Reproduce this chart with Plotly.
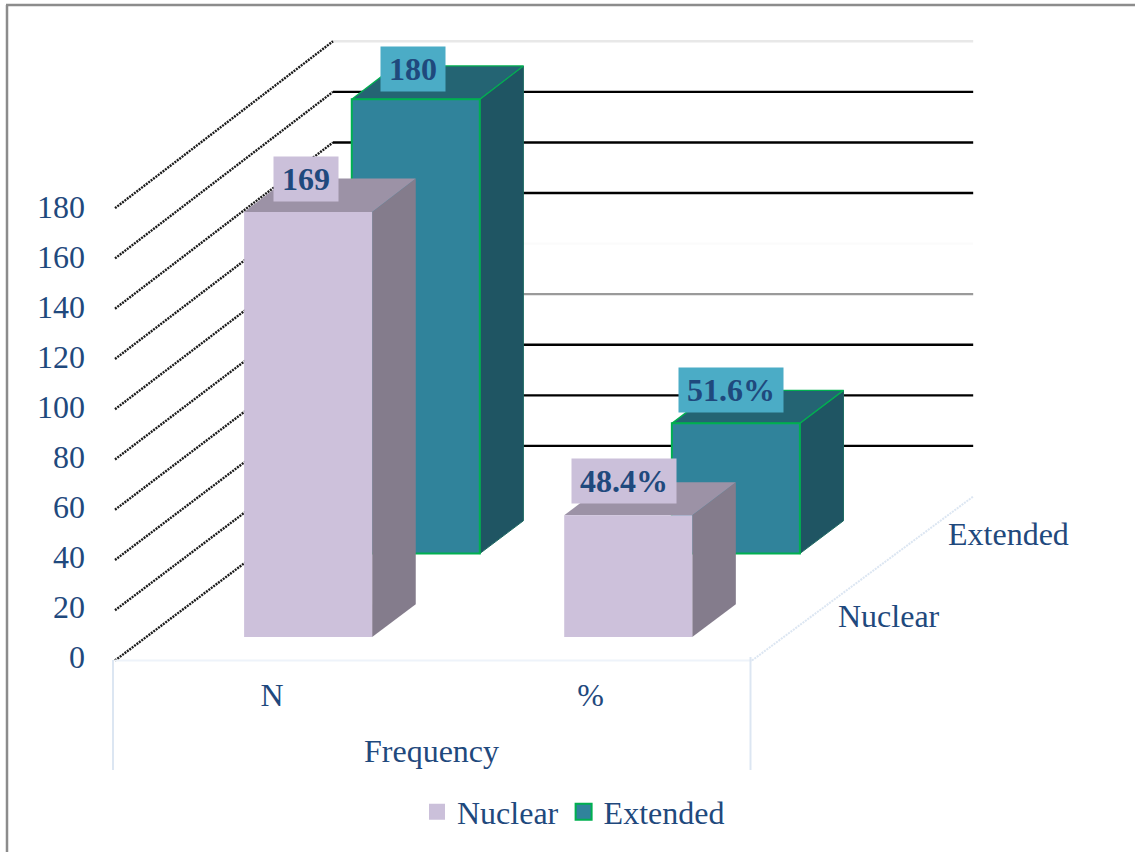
import plotly.graph_objects as go

# Chart data
categories = ["N", "%"]
series_names = ["Nuclear", "Extended"]
nuclear_values = [169, 48.4]
extended_values = [180, 51.6]
value_ticks = [0, 20, 40, 60, 80, 100, 120, 140, 160, 180]
axis_title = "Frequency"

# Canvas and oblique projection settings (pixels per unit)
WIDTH, HEIGHT = 1135, 852
X_ORIGIN, X_UNIT = 115, 318.5
Y_ZERO, Y_UNIT = 660.5, 2.513
WALL_DX, WALL_DY = 218 / X_UNIT, 164 / Y_UNIT
WALL_STRETCH = 0.0064  # the scale grows slightly toward the back wall
WALL_END = 2.01

# Tick labels sit on their own overlaid scale
TICK_ZERO, TICK_UNIT = 656.5, 2.5

BAR_WIDTH = 0.402
BAR_DEPTH = 0.2
CATEGORY_CENTERS = [0.5085, 1.5135]
SERIES_DEPTHS = {"Nuclear": 0.143, "Extended": 0.652}
SERIES_SHIFT = {"Nuclear": 0.0, "Extended": -0.0104}

TEXT = "#1F497D"
FONT = "Liberation Serif"
FONT_SIZE = 32

SERIES_STYLE = {
    "Nuclear": dict(front="#CDC1DB", top="#9C92A6", side="#847C8C", edge=None, side_edge=None, box="#CBC0DA"),
    "Extended": dict(front="#30839B", top="#246473", side="#1F5563", edge="#00B050", side_edge="#1E6A62", box="#4BACC6"),
}
GRID_COLORS = {0: "rgba(0,0,0,0)", 80: "#9A9A9A", 100: "#FBFBFB", 180: "#E8E8E8"}

# Pixel offsets of each value label from the middle of its bar's top front edge
LABEL_OFFSETS = {
    "Nuclear": [(-2, 33), (-4, 34)],
    "Extended": [(-2.5, 30.5), (-4.5, 33)],
}


def project(u, v, d):
    """Map category position, value and depth to axis coordinates."""
    return u + d * WALL_DX, v * (1 + d * WALL_STRETCH) + d * WALL_DY


def line_trace(points, color, width, dash="solid"):
    xs, ys = zip(*points)
    return go.Scatter(x=xs, y=ys, mode="lines", showlegend=False, hoverinfo="skip",
                      line=dict(color=color, width=width, dash=dash))


def face_trace(points, fill, edge, edge_width):
    xs, ys = zip(*(points + points[:1]))
    line = dict(color=edge, width=edge_width) if edge else dict(width=0)
    return go.Scatter(x=xs, y=ys, mode="lines", fill="toself", fillcolor=fill, line=line,
                      showlegend=False, hoverinfo="skip")


fig = go.Figure()

# Back wall gridlines, side wall gridlines and floor edges
for tick in value_ticks:
    color = GRID_COLORS.get(tick, "#000000")
    fig.add_trace(line_trace([project(0, tick, 1), project(WALL_END, tick, 1)], color, 2.4))
    fig.add_trace(line_trace([project(0, tick, 0), project(0, tick, 1)], "#1A1A1A", 2.4, "2px,1px"))
fig.add_trace(line_trace([project(0, 0, 0), project(2, 0, 0)], "#EEF3FA", 2))
fig.add_trace(line_trace([project(2, 0, 0), project(WALL_END, 0, 1)], "#DCE6F2", 2, "2px,1px"))

# Bars, back row first so the front row overlaps it
rows = [("Extended", extended_values), ("Nuclear", nuclear_values)]
annotations = []
for name, values in rows:
    style = SERIES_STYLE[name]
    depth = SERIES_DEPTHS[name]
    for i, value in enumerate(values):
        center = CATEGORY_CENTERS[i] + SERIES_SHIFT[name]
        left = center - BAR_WIDTH / 2
        right = left + BAR_WIDTH
        d0, d1 = depth, depth + BAR_DEPTH
        fig.add_trace(face_trace([project(right, 0, d0), project(right, 0, d1),
                                  project(right, value, d1), project(right, value, d0)],
                                 style["side"], style["side_edge"], 1))
        fig.add_trace(face_trace([project(left, value, d0), project(right, value, d0),
                                  project(right, value, d1), project(left, value, d1)],
                                 style["top"], style["edge"], 1.3))
        fig.add_trace(face_trace([project(left, 0, d0), project(right, 0, d0),
                                  project(right, value, d0), project(left, value, d0)],
                                 style["front"], style["edge"], 2))
        label = f"{value}%" if categories[i] == "%" else f"{value}"
        ax, ay = project(center, value, d0)
        dx, dy = LABEL_OFFSETS[name][i]
        annotations.append(dict(
            x=ax, y=ay, xref="x", yref="y", text=f"<b>{label}</b>", showarrow=False,
            xshift=dx, yshift=dy, width=102 if categories[i] == "%" else 62, height=42,
            bgcolor=style["box"], font=dict(family=FONT, size=FONT_SIZE, color=TEXT),
            xanchor="center", yanchor="middle", align="center", valign="middle",
        ))

# Legend entries
fig.add_trace(go.Scatter(x=[None], y=[None], mode="markers", name=series_names[0],
                         marker=dict(symbol="square", size=16, color=SERIES_STYLE["Nuclear"]["box"])))
fig.add_trace(go.Scatter(x=[None], y=[None], mode="markers", name=series_names[1],
                         marker=dict(symbol="square", size=16, color=SERIES_STYLE["Extended"]["front"],
                                     line=dict(color="#00B050", width=2))))

# Carrier for the overlaid tick label scale
fig.add_trace(go.Scatter(x=[None], y=[None], yaxis="y2", showlegend=False, hoverinfo="skip"))


def paper_x(px):
    return px / WIDTH


def paper_y(px):
    return 1 - px / HEIGHT


def note(text, px, py):
    return dict(x=paper_x(px), y=paper_y(py), xref="paper", yref="paper", text=text, showarrow=False,
                xanchor="center", yanchor="middle", font=dict(family=FONT, size=FONT_SIZE, color=TEXT))


annotations += [note(axis_title, 431, 751), note(series_names[0], 889, 616), note(series_names[1], 1008, 534)]

# Chart frame and category dividers
frame = dict(type="line", xref="paper", yref="paper", line=dict(color="#8C8C8C", width=2.5))
divider = dict(type="line", xref="paper", yref="paper", line=dict(color="#DCE6F2", width=2))
shapes = [
    {**frame, "x0": paper_x(7), "x1": paper_x(7), "y0": paper_y(5), "y1": 0},
    {**frame, "x0": paper_x(6), "x1": 1, "y0": paper_y(5), "y1": paper_y(5)},
    {**divider, "x0": paper_x(113), "x1": paper_x(113), "y0": paper_y(660), "y1": paper_y(770)},
    {**divider, "x0": paper_x(750.5), "x1": paper_x(750.5), "y0": paper_y(657), "y1": paper_y(770)},
]

fig.update_layout(
    width=WIDTH, height=HEIGHT, margin=dict(l=0, r=0, t=0, b=0),
    paper_bgcolor="white", plot_bgcolor="white",
    font=dict(family=FONT, size=FONT_SIZE, color=TEXT),
    annotations=annotations, shapes=shapes,
    legend=dict(orientation="h", x=paper_x(417), y=paper_y(812), xanchor="left", yanchor="middle",
                itemsizing="trace", font=dict(family=FONT, size=FONT_SIZE, color=TEXT),
                bgcolor="rgba(0,0,0,0)", itemclick=False, itemdoubleclick=False),
    xaxis=dict(range=[-X_ORIGIN / X_UNIT, (WIDTH - X_ORIGIN) / X_UNIT], domain=[0, 1],
               anchor="free", position=paper_y(673), showgrid=False, zeroline=False, showline=False,
               tickmode="array", tickvals=[0.493, 1.493], ticktext=categories, ticks="",
               tickfont=dict(family=FONT, size=FONT_SIZE, color=TEXT)),
    yaxis=dict(range=[(Y_ZERO - HEIGHT) / Y_UNIT, Y_ZERO / Y_UNIT], domain=[0, 1],
               showgrid=False, zeroline=False, showline=False, showticklabels=False, ticks=""),
    yaxis2=dict(range=[(TICK_ZERO - HEIGHT) / TICK_UNIT, TICK_ZERO / TICK_UNIT], domain=[0, 1],
                overlaying="y", anchor="free", position=paper_x(85), side="left",
                showgrid=False, zeroline=False, showline=False,
                tickmode="array", tickvals=value_ticks, ticks="",
                tickfont=dict(family=FONT, size=FONT_SIZE, color=TEXT)),
)

fig.write_html("out.html")
